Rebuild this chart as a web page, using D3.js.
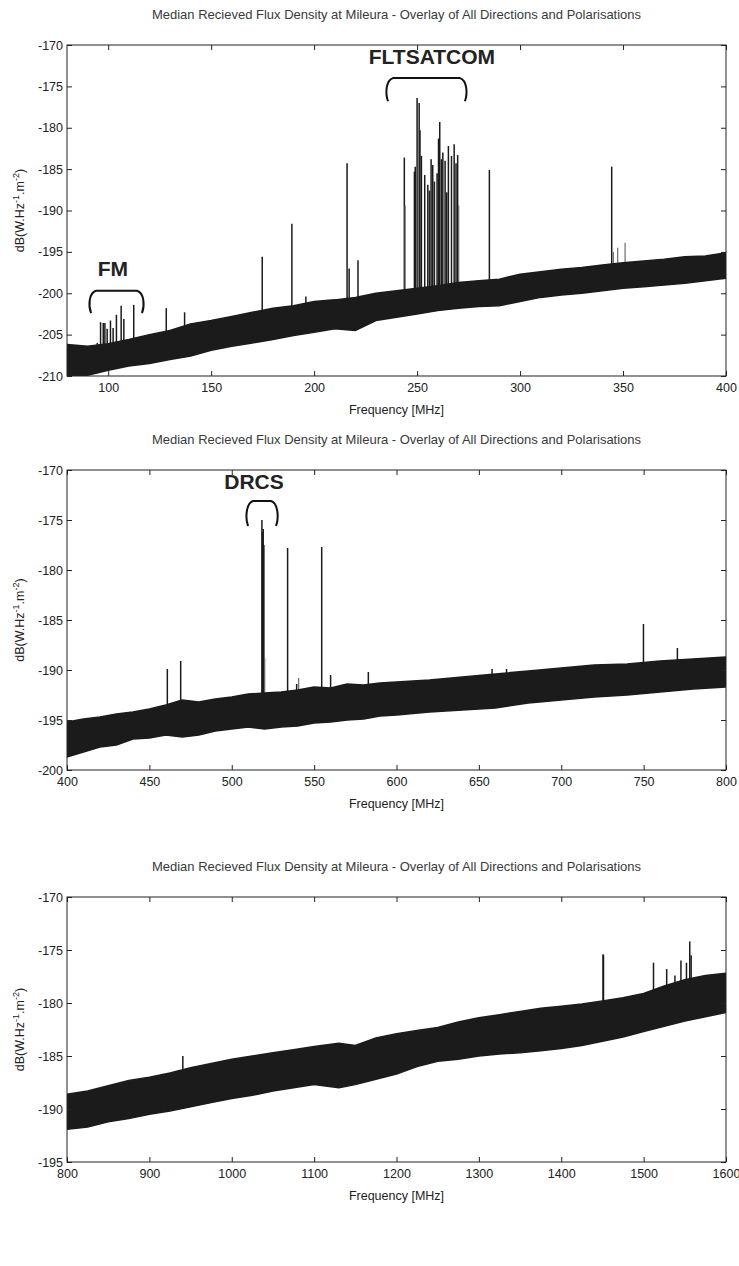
<!DOCTYPE html>
<html>
<head>
<meta charset="utf-8">
<script src="https://cdn.jsdelivr.net/npm/d3@7"></script>
<style>
  body { margin: 0; background: #fff; }
  text { font-family: "Liberation Sans Narrow", "Liberation Sans", Arial, sans-serif; }
</style>
</head>
<body>
<svg id="chart" width="739" height="1266"></svg>
<script>
const titleText = "Median Recieved Flux Density at Mileura - Overlay of All Directions and Polarisations";
const xLabelText = "Frequency [MHz]";

// ---- panel 1 : 80 - 400 MHz ----
const freq1 = [80, 90, 100, 110, 120, 130, 140, 150, 160, 170, 180, 190, 200, 210, 220, 230, 240,
  250, 260, 270, 280, 290, 300, 310, 320, 330, 340, 350, 360, 370, 380, 390, 400];
const upper1 = [-206.2, -206.4, -206.1, -205.6, -205.0, -204.5, -203.7, -203.3, -202.8, -202.3, -201.8,
  -201.5, -201.0, -200.8, -200.5, -200.0, -199.7, -199.4, -199.1, -198.7, -198.5, -198.3, -197.7,
  -197.4, -197.1, -196.9, -196.6, -196.3, -196.1, -195.9, -195.6, -195.5, -195.1];
const lower1 = [-210.8, -209.9, -209.3, -208.8, -208.5, -208.0, -207.6, -206.9, -206.4, -206.0, -205.6,
  -205.1, -204.7, -204.3, -204.5, -203.3, -202.9, -202.5, -202.1, -201.8, -201.6, -201.5, -201.0,
  -200.5, -200.2, -200.0, -199.7, -199.4, -199.2, -199.0, -198.8, -198.5, -198.2];
const spikes1 = [[94.7, -206.0], [96.3, -203.5], [97.6, -203.6], [98.4, -203.6], [99.5, -204.3],
  [101.1, -203.3], [102.4, -204.2], [104.0, -202.6], [106.3, -201.5], [107.6, -203.1], [112.4, -201.4],
  [128.2, -201.8], [137.1, -202.3], [174.8, -195.6], [189.2, -191.6], [196.0, -200.4], [216.0, -184.3],
  [217.0, -197.0], [221.3, -196.0], [243.8, -183.6], [248.7, -185.3], [249.1, -184.7], [250.0, -176.4],
  [251.0, -177.0], [251.4, -180.3], [252.1, -183.4], [253.7, -185.7], [255.2, -186.9], [256.0, -187.6],
  [256.8, -183.8], [257.6, -184.5], [258.4, -186.5], [259.7, -185.5], [260.4, -181.3], [261.0, -179.3],
  [261.8, -183.8], [262.5, -183.0], [263.6, -184.0], [264.4, -187.8], [265.2, -182.2], [266.7, -183.4],
  [268.0, -182.0], [268.9, -184.3], [269.7, -183.3], [285.1, -185.1], [344.5, -184.7]];
const spikes1Gray = [[244.2, -189.4], [270.2, -189.4], [345.3, -195.0], [347.4, -194.5], [351.0, -193.9]];
const xTicks1 = [100, 150, 200, 250, 300, 350, 400];
const yTicks1 = [-170, -175, -180, -185, -190, -195, -200, -205, -210];

// ---- panel 2 : 400 - 800 MHz ----
const freq2 = [400, 410, 420, 430, 440, 450, 460, 470, 480, 490, 500, 510, 520, 530, 540, 550, 560,
  570, 580, 590, 600, 620, 640, 660, 680, 700, 720, 740, 760, 780, 800];
const upper2 = [-195.2, -194.9, -194.7, -194.4, -194.2, -193.9, -193.5, -193.0, -193.2, -192.9, -192.7,
  -192.4, -192.3, -192.2, -192.0, -191.7, -191.8, -191.4, -191.5, -191.3, -191.2, -191.0, -190.7,
  -190.4, -190.1, -189.8, -189.5, -189.4, -189.1, -188.9, -188.7];
const lower2 = [-198.7, -198.2, -197.7, -197.5, -196.9, -196.8, -196.5, -196.7, -196.5, -196.1, -195.9,
  -195.7, -195.9, -195.7, -195.6, -195.3, -195.2, -195.0, -194.9, -194.6, -194.5, -194.2, -194.0,
  -193.8, -193.3, -193.0, -192.7, -192.5, -192.2, -191.9, -191.7];
const spikes2 = [[460.9, -189.9], [469.0, -189.1], [473.2, -193.2], [518.3, -175.0], [518.7, -176.2],
  [519.1, -175.9], [519.5, -177.5], [533.9, -177.8], [539.4, -191.4], [554.6, -177.7], [560.0, -190.5],
  [582.9, -190.2], [658.0, -189.9], [666.8, -189.9], [749.9, -185.4], [770.5, -187.8]];
const spikes2Gray = [[520.0, -188.8], [540.6, -190.8]];
const xTicks2 = [400, 450, 500, 550, 600, 650, 700, 750, 800];
const yTicks2 = [-170, -175, -180, -185, -190, -195, -200];

// ---- panel 3 : 800 - 1600 MHz ----
const freq3 = [800, 825, 850, 875, 900, 925, 950, 975, 1000, 1025, 1050, 1075, 1100, 1130, 1150, 1175,
  1200, 1225, 1250, 1275, 1300, 1325, 1350, 1375, 1400, 1425, 1450, 1475, 1500, 1525, 1550, 1575, 1600];
const upper3 = [-188.6, -188.3, -187.8, -187.3, -187.0, -186.6, -186.1, -185.7, -185.3, -185.0, -184.7,
  -184.4, -184.1, -183.8, -184.0, -183.3, -182.9, -182.6, -182.3, -181.8, -181.4, -181.1, -180.8,
  -180.5, -180.3, -180.1, -179.8, -179.5, -179.1, -178.4, -177.8, -177.4, -177.2];
const lower3 = [-191.9, -191.7, -191.2, -190.9, -190.5, -190.2, -189.8, -189.4, -189.0, -188.7, -188.3,
  -188.0, -187.7, -188.0, -187.7, -187.2, -186.7, -186.0, -185.5, -185.3, -185.0, -184.8, -184.7,
  -184.5, -184.3, -184.0, -183.6, -183.2, -182.7, -182.2, -181.7, -181.3, -180.9];
const spikes3 = [[940.6, -185.0], [1450.7, -175.4], [1451.3, -175.5], [1512.0, -176.2], [1528.0, -176.8],
  [1538.0, -177.4], [1545.3, -176.0], [1552.0, -176.2], [1556.0, -174.2], [1557.7, -175.5]];
const xTicks3 = [800, 900, 1000, 1100, 1200, 1300, 1400, 1500, 1600];
const yTicks3 = [-170, -175, -180, -185, -190, -195];

// ---- band annotations: label [text, MHz, dB], bracket [from MHz, to MHz, top dB, foot dB] ----
const fmLabel = ["FM", 102.3, -197.9];
const fmBracket = [91.2, 116.9, -199.7, -202.4];
const fltLabel = ["FLTSATCOM", 257.2, -172.3];
const fltBracket = [235.4, 273.7, -174.0, -176.8];
const drcsLabel = ["DRCS", 513.5, -171.9];
const drcsBracket = [509.3, 527.5, -173.1, -175.6];

const panels = [
  { freq: freq1, upper: upper1, lower: lower1, spikes: spikes1, gray: spikes1Gray,
    xDomain: [80, 400], xTicks: xTicks1, yTicks: yTicks1, top: 45, bottom: 376,
    labels: [fmLabel, fltLabel], brackets: [fmBracket, fltBracket] },
  { freq: freq2, upper: upper2, lower: lower2, spikes: spikes2, gray: spikes2Gray,
    xDomain: [400, 800], xTicks: xTicks2, yTicks: yTicks2, top: 470, bottom: 770,
    labels: [drcsLabel], brackets: [drcsBracket] },
  { freq: freq3, upper: upper3, lower: lower3, spikes: spikes3, gray: [],
    xDomain: [800, 1600], xTicks: xTicks3, yTicks: yTicks3, top: 897, bottom: 1162,
    labels: [], brackets: [] }
];

const svg = d3.select("#chart");
const left = 67, right = 726;
const bandColor = "#1b1b1b";

panels.forEach((p, i) => {
  const x = d3.scaleLinear().domain(p.xDomain).range([left, right]);
  const y = d3.scaleLinear().domain(d3.extent(p.yTicks)).range([p.bottom, p.top]);
  const g = svg.append("g");

  // title
  g.append("text")
    .attr("x", (left + right) / 2)
    .attr("y", p.top - 26)
    .attr("text-anchor", "middle")
    .attr("font-size", "13px")
    .attr("fill", "#3a3a3a")
    .text(titleText);

  const clipId = "clip" + i;
  svg.append("clipPath").attr("id", clipId)
    .append("rect")
    .attr("x", left).attr("y", p.top)
    .attr("width", right - left).attr("height", p.bottom - p.top);

  const plot = g.append("g").attr("clip-path", `url(#${clipId})`);

  // spikes start from the lower edge of the noise band
  const base = d3.scaleLinear().domain(p.freq).range(p.lower);

  plot.selectAll(".spk")
    .data(p.spikes)
    .join("line")
    .attr("x1", d => x(d[0]))
    .attr("x2", d => x(d[0]))
    .attr("y1", d => y(base(d[0])))
    .attr("y2", d => y(d[1]))
    .attr("stroke", "#1b1b1b")
    .attr("stroke-width", 1.5);

  plot.selectAll(".spkg")
    .data(p.gray)
    .join("line")
    .attr("x1", d => x(d[0]))
    .attr("x2", d => x(d[0]))
    .attr("y1", d => y(base(d[0])))
    .attr("y2", d => y(d[1]))
    .attr("stroke", "#6a6a6a")
    .attr("stroke-width", 1.2);

  const band = p.freq.map((f, k) => ({ f, hi: p.upper[k], lo: p.lower[k] }));
  plot.append("path")
    .datum(band)
    .attr("fill", bandColor)
    .attr("stroke", bandColor)
    .attr("stroke-width", 1.5)
    .attr("d", d3.area().x(d => x(d.f)).y0(d => y(d.lo)).y1(d => y(d.hi)));

  // axes, ticks pointing inwards on all four sides
  const fmt = d => String(d);
  g.append("g")
    .attr("transform", `translate(0,${p.bottom})`)
    .call(d3.axisBottom(x).tickValues(p.xTicks).tickSize(-5).tickPadding(7).tickFormat(fmt));
  g.append("g")
    .attr("transform", `translate(0,${p.top})`)
    .call(d3.axisTop(x).tickValues(p.xTicks).tickSize(-5).tickFormat(""));
  g.append("g")
    .attr("transform", `translate(${left},0)`)
    .call(d3.axisLeft(y).tickValues(p.yTicks).tickSize(-5).tickPadding(4).tickFormat(fmt));
  g.append("g")
    .attr("transform", `translate(${right},0)`)
    .call(d3.axisRight(y).tickValues(p.yTicks).tickSize(-5).tickFormat(""));

  g.selectAll(".domain").remove();
  g.selectAll(".tick line").attr("stroke", "#222");
  g.selectAll(".tick text")
    .attr("font-family", "'Liberation Sans Narrow', 'Liberation Sans', Arial, sans-serif")
    .attr("font-size", "12.5px")
    .attr("fill", "#222");

  g.append("rect")
    .attr("x", left).attr("y", p.top)
    .attr("width", right - left).attr("height", p.bottom - p.top)
    .attr("fill", "none")
    .attr("stroke", "#222")
    .attr("stroke-width", 1);

  // axis titles
  g.append("text")
    .attr("x", (left + right) / 2)
    .attr("y", p.bottom + 38)
    .attr("text-anchor", "middle")
    .attr("font-size", "12.5px")
    .attr("fill", "#222")
    .text(xLabelText);

  const yl = g.append("text")
    .attr("transform", `translate(24,${(p.top + p.bottom) / 2}) rotate(-90)`)
    .attr("text-anchor", "middle")
    .attr("font-size", "12.5px")
    .attr("fill", "#222");
  yl.append("tspan").text("dB(W.Hz");
  yl.append("tspan").attr("dy", -5).attr("font-size", "9px").text("-1");
  yl.append("tspan").attr("dy", 5).text(".m");
  yl.append("tspan").attr("dy", -5).attr("font-size", "9px").text("-2");
  yl.append("tspan").attr("dy", 5).text(")");

  // band annotations
  p.labels.forEach(l => {
    g.append("text")
      .attr("x", x(l[1]))
      .attr("y", y(l[2]))
      .attr("text-anchor", "middle")
      .attr("font-family", "'Liberation Sans', Arial, sans-serif")
      .attr("font-weight", "bold")
      .attr("font-size", "21px")
      .attr("fill", "#222")
      .text(l[0]);
  });
  p.brackets.forEach(b => {
    const x0 = x(b[0]), x1 = x(b[1]), yt = y(b[2]), yb = y(b[3]);
    const path = d3.path();
    path.moveTo(x0 + 1, yb);
    path.bezierCurveTo(x0 - 2, yb - 8, x0 - 1, yt + 2, x0 + 6, yt);
    path.lineTo(x1 - 6, yt);
    path.bezierCurveTo(x1 + 1, yt + 2, x1 + 2, yb - 8, x1 - 1, yb);
    g.append("path")
      .attr("d", path.toString())
      .attr("fill", "none")
      .attr("stroke", "#111")
      .attr("stroke-width", 2);
  });
});
</script>
</body>
</html>
